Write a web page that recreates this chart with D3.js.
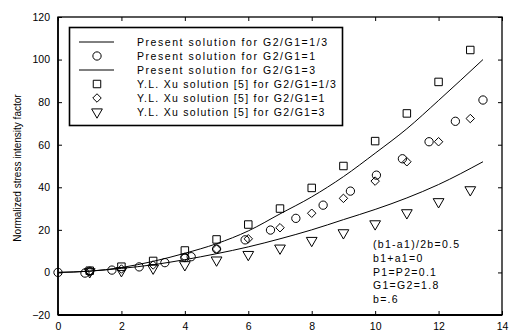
<!DOCTYPE html>
<html><head><meta charset="utf-8">
<script src="https://cdn.jsdelivr.net/npm/d3@7"></script>
<style>body{margin:0;background:#fff}svg{display:block}text{font-family:"Liberation Sans",Arial,sans-serif;fill:#000}</style>
</head><body><svg id="c" width="511" height="336"></svg>
<script>
// Data
const xTicks = [0,2,4,6,8,10,12,14];
const yTicks = [-20,0,20,40,60,80,100,120];
const curveThirdX = [0,1,2,3,4,5,6,7,8,9,10,11,12,13.4];
const curveThirdY = [0,0.6,2.3,5.2,9,13.5,19.5,27.5,35.5,45,56,67.5,80.8,100];
const curveThreeX = [0,1,2,3,4,5,6,7,8,9,10,11,12,13.4];
const curveThreeY = [0,0.6,1.9,3.6,6,8.8,12,15.8,20,24.8,29.6,35,41.3,52];
const circX = [0,0.85,1.0,1.7,2.56,3.37,4.0,4.2,5.0,5.9,6.7,7.5,8.36,9.22,10.04,10.86,11.7,12.53,13.4];
const circY = [0,-0.3,0.6,1.1,2.6,4.6,7.0,7.4,11.0,15.3,19.9,25.4,31.6,38.2,45.7,53.4,61.4,71,81];
const xuX = [1,2,3,4,5,6,7,8,9,10,11,12,13];
const squareY = [0.8,2.7,5.4,10.3,15.5,22.5,30,39.7,50,61.7,74.7,89.5,104.5];
const diamondY = [0.5,1.6,3.5,7.2,11,15.8,21,27.8,34.8,42.9,52,61.4,72.3];
const triangleY = [0.3,0.8,2,3.6,5.8,8.4,11.4,15,18.6,22.8,28,33.2,38.8];
const legendLabels = ["Present solution for G2/G1=1/3","Present solution for G2/G1=1","Present solution for G2/G1=3","Y.L. Xu solution [5] for G2/G1=1/3","Y.L. Xu solution [5] for G2/G1=1","Y.L. Xu solution [5] for G2/G1=3"];
const legendKinds = ["line","circle","line","square","diamond","triangle"];
const noteLines = ["(b1-a1)/2b=0.5","b1+a1=0","P1=P2=0.1","G1=G2=1.8","b=.6"];
const yLabel = "Normalized stress intensity factor";

const svg = d3.select("#c");
const L=58,R=502,T=17,B=315;
const x = d3.scaleLinear().domain([0,14]).range([L,R]);
const y = d3.scaleLinear().domain([-20,120]).range([B,T]);

// ticks inward
const g = svg.append("g");
g.append("g").attr("transform",`translate(0,${B})`).call(d3.axisBottom(x).tickValues(xTicks).tickSizeInner(-4).tickSizeOuter(0).tickPadding(8))
 .call(a=>a.select(".domain").remove());
g.append("g").attr("transform",`translate(0,${T})`).call(d3.axisTop(x).tickValues(xTicks).tickSizeInner(-4).tickSizeOuter(0).tickFormat(""))
 .call(a=>a.select(".domain").remove());
g.append("g").attr("transform",`translate(${L},0)`).call(d3.axisLeft(y).tickValues(yTicks).tickSizeInner(-4).tickSizeOuter(0).tickPadding(8))
 .call(a=>a.select(".domain").remove());
g.append("g").attr("transform",`translate(${R},0)`).call(d3.axisRight(y).tickValues(yTicks).tickSizeInner(-4).tickSizeOuter(0).tickFormat(""))
 .call(a=>a.select(".domain").remove());
g.selectAll(".tick line").attr("stroke","#000");
g.selectAll(".tick text").attr("font-size",10.5).attr("font-family","Liberation Sans, Arial, sans-serif").attr("fill","#000");

// frame
svg.append("rect").attr("x",L).attr("y",T).attr("width",R-L).attr("height",B-T).attr("fill","none").attr("stroke","#000").attr("stroke-width",1.3);
svg.append("line").attr("x1",L).attr("x2",R).attr("y1",B).attr("y2",B).attr("stroke","#000").attr("stroke-width",2.2);
svg.append("line").attr("x1",L).attr("x2",L).attr("y1",T).attr("y2",B).attr("stroke","#000").attr("stroke-width",1.6);

// curves
const line = d3.line().x(d=>x(d[0])).y(d=>y(d[1])).curve(d3.curveMonotoneX);
const plotCurve = (xs,ys)=>svg.append("path").datum(xs.map((v,i)=>[v,ys[i]])).attr("d",line).attr("fill","none").attr("stroke","#000").attr("stroke-width",1);
plotCurve(curveThirdX,curveThirdY);
plotCurve(curveThreeX,curveThreeY);

// markers
const wideDiamond = {draw(ctx,size){const r=Math.sqrt(size/2);ctx.moveTo(0,-r);ctx.lineTo(r,0);ctx.lineTo(0,r);ctx.lineTo(-r,0);ctx.closePath();}};
const sym = {
  circle: d3.symbol().type(d3.symbolCircle).size(54),
  square: d3.symbol().type(d3.symbolSquare).size(56),
  diamond: d3.symbol().type(wideDiamond).size(36),
  triangle: d3.symbol().type(d3.symbolTriangle).size(50)
};
function markers(xs,ys,kind){
  svg.append("g").selectAll("path").data(xs.map((v,i)=>[v,ys[i]])).join("path")
   .attr("d",sym[kind]())
   .attr("transform",d=>`translate(${x(d[0])},${y(d[1])})`+(kind==="triangle"?" rotate(180)":""))
   .attr("fill","none").attr("stroke","#000").attr("stroke-width",1);
}
markers(circX,circY,"circle");
markers(xuX,squareY,"square");
markers(xuX,diamondY,"diamond");
markers(xuX,triangleY,"triangle");

// legend
const lg = svg.append("g");
lg.append("rect").attr("x",69.5).attr("y",27.5).attr("width",273).attr("height",98).attr("fill","#fff").attr("stroke","#000").attr("stroke-width",1.6);
legendLabels.forEach((t,i)=>{
  const yy = 42 + i*14;
  const k = legendKinds[i];
  if(k==="line") lg.append("line").attr("x1",79).attr("x2",114).attr("y1",yy).attr("y2",yy).attr("stroke","#000").attr("stroke-width",1);
  else lg.append("path").attr("d",sym[k]()).attr("transform",`translate(97,${yy})`+(k==="triangle"?" rotate(180)":"")).attr("fill","none").attr("stroke","#000");
  lg.append("text").attr("x",137).attr("y",yy+3.8).attr("font-size",10.5).attr("letter-spacing",i<3?1.55:1.28).text(t);
});

// notes
noteLines.forEach((t,i)=>{
  svg.append("text").attr("x",373).attr("y",248+i*13.8).attr("font-size",10.5).attr("letter-spacing",1.3).text(t);
});

// y label
svg.append("text").attr("transform",`translate(21,${(T+B)/2+2}) rotate(-90)`).attr("text-anchor","middle").attr("font-size",10).text(yLabel);
</script></body></html>
